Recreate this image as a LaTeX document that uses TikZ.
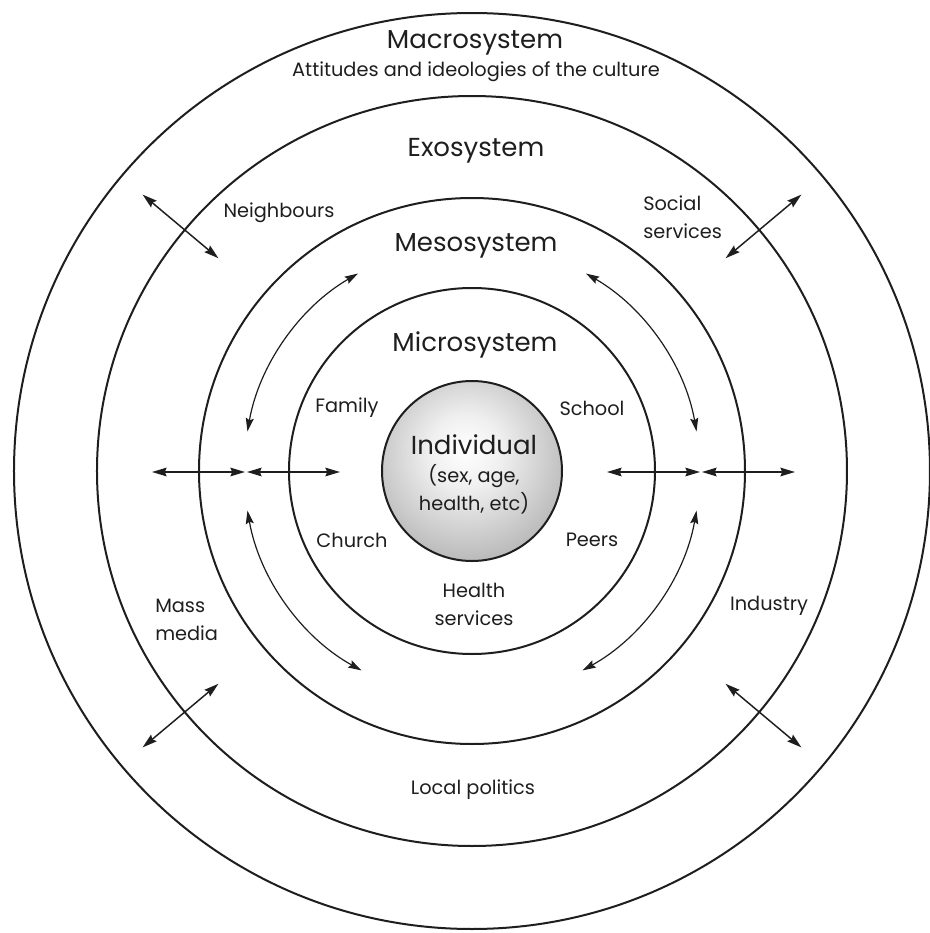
\documentclass[tikz,border=0pt]{standalone}
\usepackage{fontspec}
\setmainfont{Poppins}
\usetikzlibrary{arrows.meta}
\pgfdeclareradialshading{indivshade}{\pgfpoint{-2bp}{6bp}}{color(0bp)=(white); color(10bp)=(black!6); color(50bp)=(black!50); color(100bp)=(black!50)}
\definecolor{ink}{HTML}{1E1E1E}
\begin{document}
\begin{tikzpicture}[x=0.75pt,y=0.75pt,
  ring/.style={draw=ink,line width=1.5pt},
  tip/.style={Stealth[length=11pt,width=6.5pt,inset=1.5pt]},
  dbl/.style={draw=ink,line width=1.1pt,{Stealth[length=11pt,width=6.5pt,inset=1.5pt]}-{Stealth[length=11pt,width=6.5pt,inset=1.5pt]}},
  arcdbl/.style={draw=ink,line width=0.9pt,{Stealth[length=10pt,width=6pt,inset=1.5pt]}-{Stealth[length=10pt,width=6pt,inset=1.5pt]}},
  title/.style={text=ink,inner sep=0pt,font=\fontsize{19.5}{23}\selectfont},
  lab/.style={text=ink,inner sep=0pt,font=\fontsize{14.5}{21}\selectfont},
]
\useasboundingbox (-472,-462) rectangle (458,471);
% rings
\draw[ring] (0,0) circle[radius=458];
\draw[ring] (0,0) circle[radius=375];
\draw[ring] (0,0) circle[radius=273];
\draw[ring] (0,0) circle[radius=183];
\path[shading=indivshade] (0,0) circle[radius=90];
\draw[ring] (0,0) circle[radius=90];

% titles
\node[title] (macro) at (3,428) {Macrosystem};
\node[lab] (attitudes) at (4,399) {Attitudes and ideologies of the culture};
\node[title] (exo) at (4,320) {Exosystem};
\node[title] (meso) at (4,225) {Mesosystem};
\node[title] (micro) at (3,126) {Microsystem};

% exosystem labels
\node[lab] (neigh) at (-193,258) {Neighbours};
\node[lab,align=left,anchor=west] (social) at (171,254) {Social\\services};
\node[lab,align=left,anchor=west] (mass) at (-317,-149) {Mass\\media};
\node[lab] (industry) at (297,-135) {Industry};
\node[lab] (local) at (1,-319) {Local politics};

% microsystem labels
\node[lab] (family) at (-125,63) {Family};
\node[lab] (school) at (120,63) {School};
\node[lab] (church) at (-120,-69) {Church};
\node[lab] (peers) at (120,-69) {Peers};
\node[lab,align=center] (health) at (2,-133) {Health\\services};

% individual
\node[title] (indiv) at (2,26) {Individual};
\node[lab,align=center] (indivsub) at (2,-18) {(sex, age,\\health, etc)};

% horizontal arrows
\coordinate (hl1) at (-320,-1);
\coordinate (hl2) at (-227,-1);
\coordinate (hl3) at (-225,-1);
\coordinate (hl4) at (-132,-1);
\coordinate (hr1) at (135,-1);
\coordinate (hr2) at (228,-1);
\coordinate (hr3) at (230,-1);
\coordinate (hr4) at (323,-1);
\draw[dbl] (hl1) -- (hl2);
\draw[dbl] (hl3) -- (hl4);
\draw[dbl] (hr1) -- (hr2);
\draw[dbl] (hr3) -- (hr4);

% diagonal arrows
\foreach \a/\n in {40/ne,140/nw,220/sw,320/se}{
  \coordinate (\n in) at (\a:331);
  \coordinate (\n out) at (\a:430);
  \draw[dbl] (\n in) -- (\n out);
}

% curved mesosystem arrows
\coordinate (ar1) at (10:228);
\coordinate (ar2) at (120:228);
\coordinate (ar3) at (190:228);
\coordinate (ar4) at (299:228);
\draw[arcdbl] (ar1) arc[start angle=10,end angle=60,radius=228];
\draw[arcdbl] (ar2) arc[start angle=120,end angle=170,radius=228];
\draw[arcdbl] (ar3) arc[start angle=190,end angle=241,radius=228];
\draw[arcdbl] (ar4) arc[start angle=299,end angle=350,radius=228];
\end{tikzpicture}
\end{document}
